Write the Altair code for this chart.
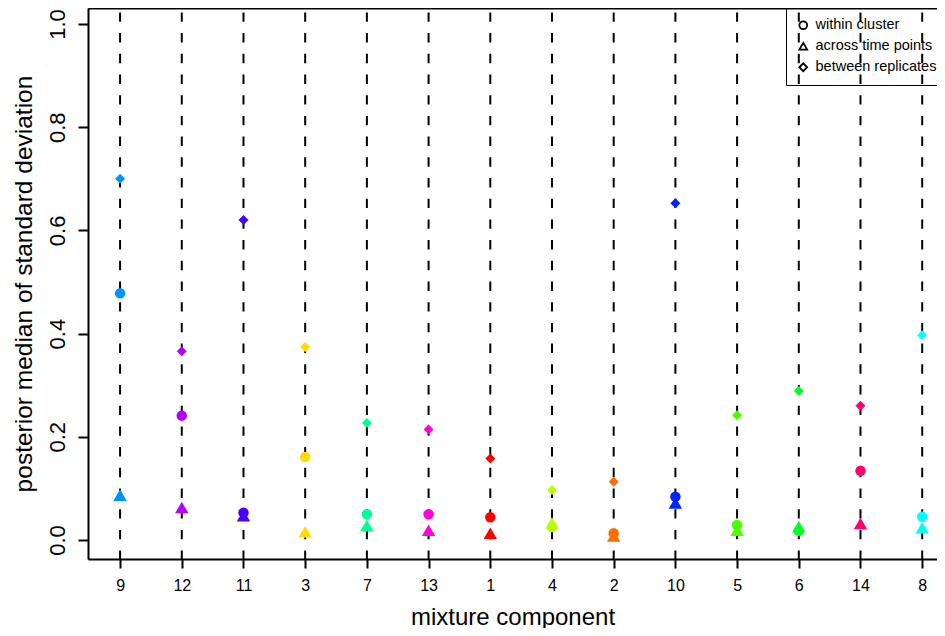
import altair as alt
import pandas as pd

components = ["9", "12", "11", "3", "7", "13", "1", "4", "2", "10", "5", "6", "14", "8"]
colors = ["#0092FF", "#B600FF", "#4900FF", "#FFDB00", "#00FF92", "#FF00DB", "#FF0000",
          "#B6FF00", "#FF6D00", "#0024FF", "#49FF00", "#00FF24", "#FF006D", "#00FFFF"]
within_cluster = [0.478, 0.241, 0.053, 0.161, 0.050, 0.050, 0.044, 0.025, 0.013, 0.084, 0.029, 0.018, 0.134, 0.045]
across_time = [0.087, 0.063, 0.047, 0.016, 0.028, 0.019, 0.013, 0.033, 0.008, 0.072, 0.019, 0.026, 0.032, 0.024]
between_reps = [0.700, 0.366, 0.620, 0.374, 0.227, 0.214, 0.158, 0.097, 0.113, 0.6525, 0.242, 0.289, 0.260, 0.397]
types = ["within cluster", "across time points", "between replicates"]
shapes = ["circle", "triangle-up", "diamond"]
sizes = [110, 180, 100]
y_ticks = [0.0, 0.2, 0.4, 0.6, 0.8, 1.0]

rows = []
for i, comp in enumerate(components):
    for t, vals in zip(types, [within_cluster, across_time, between_reps]):
        rows.append({"idx": i + 1, "comp": comp, "color": colors[i], "type": t, "value": vals[i]})
df = pd.DataFrame(rows)
comp_df = pd.DataFrame({"idx": list(range(1, len(components) + 1)), "comp": components})

FONT = "Liberation Sans"
xscale = alt.Scale(domain=[0.48, 14.24], nice=False, zero=False)
yscale = alt.Scale(domain=[-0.0368, 1.031], nice=False, zero=False)
label_expr = "[" + ",".join("'" + c + "'" for c in components) + "][datum.value - 1]"

rules = alt.Chart(comp_df).mark_rule(
    color="black", strokeWidth=2, strokeDash=[9.4, 11.3], strokeDashOffset=16.3
).encode(
    x=alt.X("idx:Q", scale=xscale, axis=alt.Axis(
        orient="bottom", values=list(range(1, len(components) + 1)), labelExpr=label_expr,
        title="mixture component", grid=False, tickSize=9, tickWidth=2, tickColor="black",
        domainColor="black", domainWidth=2, labelFontSize=16, labelFont=FONT, labelColor="black",
        labelPadding=9, titleFontSize=24, titleFont=FONT, titleFontWeight="normal",
        titleColor="black", titlePadding=12))
)

yaxis = alt.Axis(
    values=y_ticks, format=".1f", title="posterior median of standard deviation",
    grid=False, tickSize=10, tickWidth=2, tickColor="black", domainColor="black",
    domainWidth=2, labelAngle=-90, labelAlign="center", labelBaseline="bottom",
    labelFontSize=22, labelFont=FONT, labelColor="black", labelPadding=9,
    titleFontSize=24.5, titleFont=FONT, titleFontWeight="normal", titleColor="black",
    titlePadding=10)

legend = alt.Legend(title=None, orient="none", legendX=698, legendY=0,
                    strokeColor="black", padding=10, rowPadding=5,
                    labelFontSize=14.5, labelFont=FONT, labelColor="black",
                    labelOffset=5, symbolSize=60, symbolFillColor="transparent",
                    symbolStrokeColor="black", symbolStrokeWidth=1.8)

layers = [rules]
for k, (t, s) in enumerate(zip(types, sizes)):
    if k == 0:
        xenc = alt.X("idx:Q", scale=xscale, axis=alt.Axis(
            orient="top", labels=False, ticks=False, grid=False, title=None,
            domainColor="black", domainWidth=2))
    else:
        xenc = alt.X("idx:Q", scale=xscale, axis=None)
    layer = alt.Chart(df).transform_filter(alt.datum.type == t).mark_point(
        filled=True, opacity=1, size=s
    ).encode(
        x=xenc,
        y=alt.Y("value:Q", scale=yscale, axis=yaxis),
        color=alt.Color("color:N", scale=None),
        shape=alt.Shape("type:N", scale=alt.Scale(domain=types, range=shapes), legend=legend),
    )
    layers.append(layer)

chart = alt.layer(*layers).properties(
    width=849, height=551,
    autosize=alt.AutoSizeParams(type="none"),
    padding={"left": 80, "top": 0, "right": 0, "bottom": 69},
).configure_view(stroke=None).configure(background="white")

chart.save("out.html", embed_options={"renderer": "svg", "actions": False})
